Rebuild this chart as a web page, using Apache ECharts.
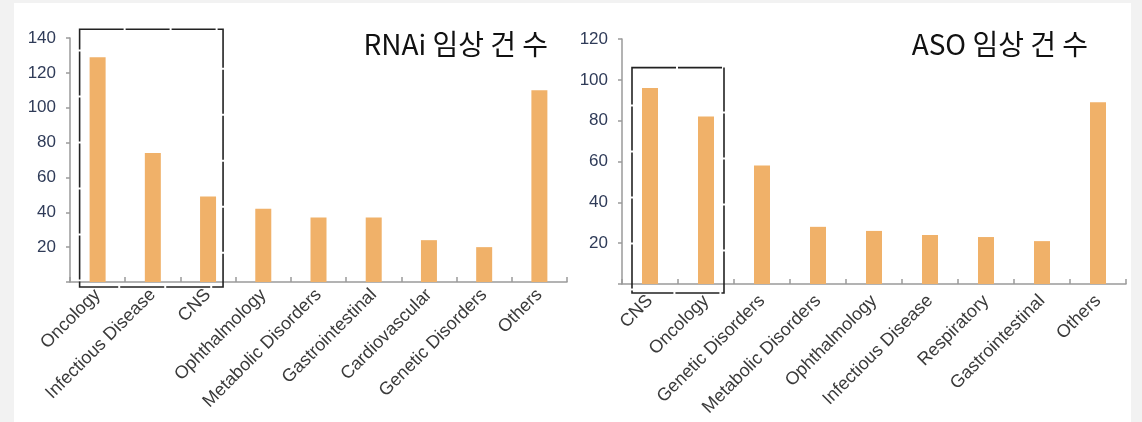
<!DOCTYPE html>
<html>
<head>
<meta charset="utf-8">
<script src="https://cdn.jsdelivr.net/npm/echarts@6/dist/echarts.min.js"></script>
<style>
body { margin: 0; background: #f2f2f2; }
#main { position: absolute; left: 14px; top: 3px; width: 1117px; height: 419px; background: #fff; }
</style>
</head>
<body>
<div id="main"></div>
<script>
// RNAi 임상 건 수
var rnaiCategories = ['Oncology', 'Infectious Disease', 'CNS', 'Ophthalmology', 'Metabolic Disorders',
    'Gastrointestinal', 'Cardiovascular', 'Genetic Disorders', 'Others'];
var rnaiValues = [129, 74, 49, 42, 37, 37, 24, 20, 110];
var rnaiMax = 140;
var rnaiBox = ['Oncology', 'CNS'];

// ASO 임상 건 수
var asoCategories = ['CNS', 'Oncology', 'Genetic Disorders', 'Metabolic Disorders', 'Ophthalmology',
    'Infectious Disease', 'Respiratory', 'Gastrointestinal', 'Others'];
var asoValues = [96, 82, 58, 28, 26, 24, 23, 21, 89];
var asoMax = 120;
var asoBox = ['CNS', 'Oncology'];

var tickStep = 20;
var barColor = '#f0b169';
var axisGray = '#9a9a9a';

var myChart = echarts.init(document.getElementById('main'), null, { renderer: 'canvas' });

function makeX(idx, cats, margin) {
    return {
        type: 'category',
        gridIndex: idx,
        data: cats,
        axisLine: { show: true, lineStyle: { color: axisGray, width: 1.5 } },
        axisTick: { show: true, inside: true, length: 5, lineStyle: { color: axisGray, width: 1.5 } },
        axisLabel: {
            interval: 0, rotate: 45, margin: margin, color: '#3a3a3a',
            fontFamily: 'Liberation Sans', fontSize: 18
        },
        splitLine: { show: false }
    };
}

function makeY(idx, max) {
    return {
        type: 'value',
        gridIndex: idx,
        min: 0,
        max: max,
        interval: tickStep,
        axisLine: { show: true, lineStyle: { color: axisGray, width: 1.5 } },
        axisTick: { show: true, length: 4, lineStyle: { color: axisGray, width: 1.5 } },
        axisLabel: {
            margin: 14, color: '#2f3b58', fontFamily: 'Liberation Sans', fontSize: 17,
            formatter: function (v) { return v === 0 ? '' : v; }
        },
        splitLine: { show: false }
    };
}

var titleFont = 'Noto Sans CJK KR';

var option = {
    animation: false,
    backgroundColor: '#fff',
    title: [{
        text: 'RNAi 임상 건 수',
        right: 583,
        top: 27,
        padding: 0,
        textStyle: { fontFamily: titleFont, fontSize: 28, fontWeight: 'normal', color: '#111' }
    }, {
        text: 'ASO 임상 건 수',
        right: 43,
        top: 27,
        padding: 0,
        textStyle: { fontFamily: titleFont, fontSize: 28, fontWeight: 'normal', color: '#111' }
    }],
    grid: [
        { left: 56, top: 35, width: 497, height: 244 },
        { left: 608, top: 36, width: 504, height: 245 }
    ],
    xAxis: [makeX(0, rnaiCategories, 10), makeX(1, asoCategories, 14)],
    yAxis: [makeY(0, rnaiMax), makeY(1, asoMax)],
    series: [{
        name: 'RNAi',
        type: 'bar',
        xAxisIndex: 0,
        yAxisIndex: 0,
        data: rnaiValues,
        barWidth: 16,
        itemStyle: { color: barColor }
    }, {
        name: 'ASO',
        type: 'bar',
        xAxisIndex: 1,
        yAxisIndex: 1,
        data: asoValues,
        barWidth: 16,
        itemStyle: { color: barColor }
    }]
};
myChart.setOption(option);

// dashed highlight boxes, placed from the axes
function boxFor(idx, cats, span, topVal, padL, padR, padB) {
    var finder = { xAxisIndex: idx, yAxisIndex: idx };
    var p0 = myChart.convertToPixel(finder, [cats.indexOf(span[0]), topVal]);
    var p1 = myChart.convertToPixel(finder, [cats.indexOf(span[1]), 0]);
    return {
        type: 'rect',
        z: 10,
        shape: {
            x: p0[0] - padL,
            y: p0[1],
            width: p1[0] - p0[0] + padL + padR,
            height: p1[1] - p0[1] + padB
        },
        style: { fill: 'none', stroke: '#222', lineWidth: 1.6, lineDash: [44, 2] }
    };
}

myChart.setOption({
    graphic: [
        boxFor(0, rnaiCategories, rnaiBox, 145, 18, 15, 5),
        boxFor(1, asoCategories, asoBox, 106, 18, 18, 9)
    ]
});
</script>
</body>
</html>
